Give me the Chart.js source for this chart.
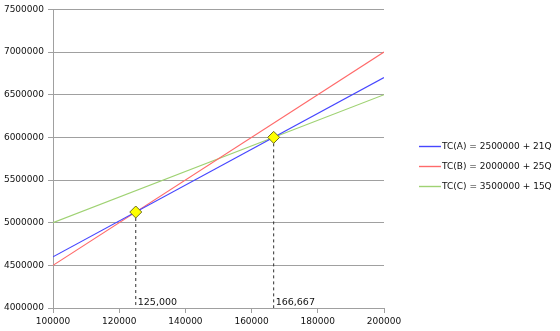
<!DOCTYPE html>
<html>
<head>
<meta charset="utf-8">
<script src="https://cdn.jsdelivr.net/npm/chart.js@4.4.0/dist/chart.umd.min.js"></script>
<style>
html,body{margin:0;padding:0;background:#fff;}
#wrap{width:560px;height:331px;position:relative;}
</style>
</head>
<body>
<div id="wrap"><canvas id="c" width="560" height="331"></canvas></div>
<script>
const quantities = [100000, 200000];
const seriesNames = ['TC(A) = 2500000 + 21Q', 'TC(B) = 2000000 + 25Q', 'TC(C) = 3500000 + 15Q'];
const seriesA = [4600000, 6700000];
const seriesB = [4500000, 7000000];
const seriesC = [5000000, 6500000];
const breakEvenQ = [125000, 166667];
const breakEvenTC = [5125000, 6000000];
const breakEvenLabels = ['125,000', '166,667'];
const yTicks = [4000000, 4500000, 5000000, 5500000, 6000000, 6500000, 7000000, 7500000];
const xTicks = [100000, 120000, 140000, 160000, 180000, 200000];

const FONT = 'DejaVu Sans';
const seriesColors = ['#4646ff', '#ff6a6a', '#9fd273'];
const pts = (xs, ys) => xs.map((x, i) => ({x, y: ys[i]}));

const datasets = [
  {
    label: 'markers', data: pts(breakEvenQ, breakEvenTC), showLine: false,
    pointStyle: 'rectRot', pointRadius: 6, pointBackgroundColor: '#ffff00',
    pointBorderColor: '#6e6e1e', pointBorderWidth: 1
  },
  ...breakEvenQ.map((q, i) => ({
    label: 'drop' + i, data: [{x: q, y: breakEvenTC[i]}, {x: q, y: yTicks[0]}],
    showLine: true, borderColor: '#303030', borderWidth: 1, borderDash: [3, 3], pointRadius: 0
  })),
  ...[seriesA, seriesB, seriesC].map((s, i) => ({
    label: seriesNames[i], data: pts(quantities, s), showLine: true,
    borderColor: seriesColors[i], borderWidth: 1.2, pointRadius: 0
  }))
];

const annot = {
  id: 'annot',
  afterDatasetsDraw(chart) {
    const {ctx, scales: {x, y}} = chart;
    ctx.save();
    ctx.font = '9.5px "' + FONT + '"';
    ctx.fillStyle = '#111';
    ctx.textBaseline = 'alphabetic';
    ctx.textAlign = 'left';
    breakEvenQ.forEach((q, i) => {
      ctx.fillText(breakEvenLabels[i], x.getPixelForValue(q) + 2, y.getPixelForValue(yTicks[0]) - 3);
    });
    ctx.restore();
  }
};

const sideLegend = {
  id: 'sideLegend',
  afterDraw(chart) {
    const {ctx, chartArea} = chart;
    const x0 = chartArea.right + 35;
    const rowY = [146, 166, 186];
    ctx.save();
    ctx.font = '9px "' + FONT + '"';
    ctx.textBaseline = 'middle';
    ctx.textAlign = 'left';
    seriesNames.forEach((name, i) => {
      const yy = rowY[i] + 0.5;
      ctx.strokeStyle = seriesColors[i];
      ctx.lineWidth = 1.4;
      ctx.beginPath();
      ctx.moveTo(x0, yy);
      ctx.lineTo(x0 + 22, yy);
      ctx.stroke();
      ctx.fillStyle = '#111';
      ctx.fillText(name, x0 + 23, yy);
    });
    ctx.restore();
  }
};

new Chart(document.getElementById('c'), {
  type: 'scatter',
  data: { datasets },
  plugins: [annot, sideLegend],
  options: {
    responsive: false, animation: false,
    layout: { padding: { top: 8, left: 0, right: 176, bottom: 0 } },
    plugins: {
      tooltip: { enabled: false },
      legend: { display: false }
    },
    scales: {
      x: {
        type: 'linear', min: 100000, max: 200000,
        afterBuildTicks: (s) => { s.ticks = xTicks.map(v => ({value: v})); },
        afterFit: (s) => { s.height = 23; },
        grid: { drawOnChartArea: false, color: '#a0a0a0', tickLength: 5 },
        border: { color: '#a0a0a0' },
        ticks: { font: { family: FONT, size: 9 }, color: '#111', maxRotation: 0, padding: 3, callback: v => String(v) }
      },
      y: {
        type: 'linear', min: 4000000, max: 7500000,
        afterBuildTicks: (s) => { s.ticks = yTicks.map(v => ({value: v})); },
        afterFit: (s) => { s.width = 53; },
        grid: { color: '#a0a0a0', tickLength: 5 },
        border: { color: '#a0a0a0' },
        ticks: { font: { family: FONT, size: 9 }, color: '#111', padding: 4, callback: v => String(v) }
      }
    }
  }
});
</script>
</body>
</html>
